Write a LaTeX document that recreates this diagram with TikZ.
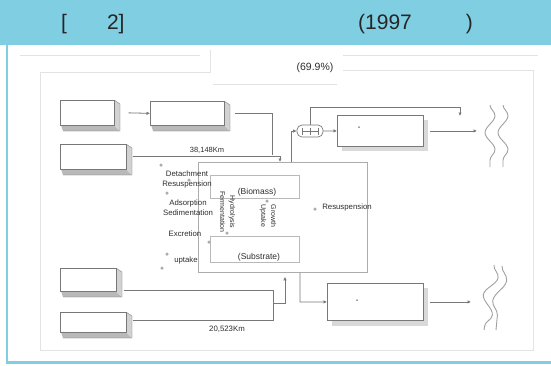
\documentclass[tikz,border=0pt]{standalone}
\usepackage{fontspec}
\setmainfont{Liberation Sans}
\usetikzlibrary{arrows.meta,decorations.pathmorphing}
\definecolor{hdr}{RGB}{127,206,226}
\definecolor{ln}{RGB}{120,120,120}
\definecolor{tx}{RGB}{45,45,45}
\newcommand\slab[5]{%
  \fill[gray!55] (#2+1,#5-6) -- (#4-6,#5-6) -- (#4,#5) -- (#2+3,#5) -- cycle;
  \fill[gray!35] (#4-6,#3) -- (#4,#3+4) -- (#4,#5) -- (#4-6,#5-6) -- cycle;
  \draw[ln,line width=0.4pt] (#2+3,#5) -- (#4,#5) -- (#4,#3+4) -- (#4-6,#3);
  \node[box, minimum width={(#4-#2-6)*1pt}, minimum height={(#5-#3-6)*1pt}] (#1) at (#2,#3) {};}
\begin{document}
\begin{tikzpicture}[x=1pt,y=-1pt,
  box/.style={draw=ln, fill=white, line width=0.7pt, inner sep=0pt, anchor=north west},
  bigbox/.style={draw=ln, fill=white, line width=0.8pt, inner sep=0pt, anchor=north west},
  faint/.style={draw=gray!22, line width=0.8pt},
  conn/.style={draw=ln, line width=0.8pt},
  arr/.style={conn, -{Latex[length=3.5pt,width=3.5pt]}},
  lab/.style={text=tx, inner sep=0pt, font=\fontsize{7.8}{9}\selectfont},
  dot/.style={circle, fill=gray!65, inner sep=0pt, minimum size=3.5pt},
  river/.style={draw=gray!75, line width=0.9pt, decorate, decoration={snake, amplitude=5pt, segment length=34pt}},
  hdrtext/.style={text=black!85, inner sep=0pt, anchor=base west, font=\fontsize{21}{21}\selectfont}]
\useasboundingbox (0,0) rectangle (551,365);
% header and border
\fill[hdr] (0,0) rectangle (551,44.5);
\fill[hdr] (6,44.5) rectangle (8.3,363.5);
\fill[hdr] (6,361) rectangle (551,363.5);
\node[hdrtext] (h1) at (61,29.5) {[\hspace{40pt}2]};
\node[hdrtext] (h2) at (358,29.5) {(1997\hspace{54pt})};
% faint scan frame
\draw[faint] (40,72) -- (40,350) -- (533,350) -- (533,70) -- (343,70);
\draw[faint] (40,72) -- (210,72) -- (210,50);
\draw[faint] (20,55) -- (200,55);
\draw[faint] (213,84) -- (337,84);
\draw[faint] (343,55) -- (538,55);
\node[text=tx, inner sep=0pt, font=\fontsize{10.5}{12}\selectfont] (pct) at (315,68) {(69.9\%)};
% left 3D boxes
\slab{A}{60}{100}{120}{131}
\slab{B}{150}{101}{230}{131}
\slab{C}{60}{144}{132}{175}
\slab{E}{60}{268}{122}{297}
\slab{F}{60}{312}{132}{338}
% right boxes with shadows
\fill[gray!30] (342,120) rectangle (428,151);
\node[bigbox, minimum width=86pt, minimum height=31pt] (D) at (337,115) {};
\fill[gray!30] (332,288) rectangle (428,326);
\node[bigbox, minimum width=96pt, minimum height=37pt] (G) at (327,283) {};
\node[circle, fill=tx, inner sep=0pt, minimum size=1.5pt] (dd) at (359,127) {};
\node[circle, fill=tx, inner sep=0pt, minimum size=1.5pt] (dg) at (357,300) {};
% centre box
\node[draw=gray!65, line width=0.8pt, inner sep=0pt, anchor=north west, minimum width=169pt, minimum height=110pt] (ctr) at (198,162) {};
\node[draw=gray!55, line width=0.7pt, inner sep=0pt, anchor=north west, minimum width=89pt, minimum height=23pt] (bio) at (210,175) {};
\node[draw=gray!55, line width=0.7pt, inner sep=0pt, anchor=north west, minimum width=89pt, minimum height=26pt] (sub) at (210,236) {};
\node[lab, font=\fontsize{8.5}{10}\selectfont] (biot) at (257,192) {(Biomass)};
\node[lab, font=\fontsize{8.5}{10}\selectfont] (subt) at (259,257) {(Substrate)};
\node[lab, rotate=-90, align=center, font=\fontsize{7}{10}\selectfont] (hf) at (227.5,212) {Hydrolysis\\Fermentation};
\node[lab, rotate=-90, align=center, font=\fontsize{7}{10}\selectfont] (gu) at (268,216) {Growth\\Uptake};
% capsule
\node[draw=ln, fill=white, line width=0.7pt, rounded corners=5pt, minimum width=26pt, minimum height=12pt, inner sep=0pt] (pump) at (310,131) {};
\draw[ln, line width=0.6pt] (302,127.5) -- (302,134.5) (310,127.5) -- (310,134.5) (318,127.5) -- (318,134.5) (302,131) -- (318,131);
% labels
\node[lab] (l1) at (187,174) {Detachment};
\node[lab] (l2) at (187,184) {Resuspension};
\node[lab] (l3) at (188,203) {Adsorption};
\node[lab] (l4) at (188,213) {Sedimentation};
\node[lab] (l5) at (185,234) {Excretion};
\node[lab] (l6) at (186,260) {uptake};
\node[lab] (l7) at (347,207) {Resuspension};
\node[lab, font=\fontsize{7.5}{9}\selectfont] (k1) at (207,150) {38,148Km};
\node[lab, font=\fontsize{7.8}{9}\selectfont] (k2) at (227,329) {20,523Km};
% dots
\node[dot] (d1) at (161,165) {};
\node[dot] (d2) at (189,180) {};
\node[dot] (d3) at (167,193) {};
\node[dot] (d4) at (209,242) {};
\node[dot] (d5) at (227,233) {};
\node[dot] (d6) at (267,201) {};
\node[dot] (d7) at (315,209) {};
\node[dot] (d8) at (167,254) {};
\node[dot] (d9) at (162,268) {};
% connectors
\coordinate (b1) at (272,116);
\coordinate (b2) at (272,155);
\coordinate (c1) at (280,157);
\coordinate (p1) at (291,131);
\coordinate (q1) at (310,107);
\coordinate (q2) at (460,107);
\coordinate (rt) at (477,131);
\coordinate (g1) at (300,302);
\coordinate (rb) at (471,302);
\coordinate (e1) at (273,290);
\coordinate (e2) at (273,320);
\coordinate (m1) at (273,303);
\coordinate (m2) at (285,303);
\draw[arr] ([xshift=14pt]A.east) -- (B.west);
\draw[conn] ([xshift=10pt]B.east) -- (B.east -| b1) -- (b2);
\draw[arr] ([xshift=6pt]C.east) -- (C.east -| c1) -- (c1 |- ctr.north);
\draw[arr] (p1 |- ctr.north) -- (p1) -- (pump.west);
\draw[arr] (pump.east) -- (D.west);
\draw[arr] (pump.north) -- (q1) -- (q2) -- ([yshift=-9pt]q2);
\draw[arr] ([xshift=6pt]D.east) -- (D.east -| rt);
\draw[arr] (ctr.south -| g1) -- (g1) -- (G.west);
\draw[arr] ([xshift=6pt]G.east) -- (G.east -| rb);
\draw[conn] (E.east |- e1) ++(7,0) -- (e1) -- (e2) -- ([xshift=6pt]F.east |- e2);
\draw[arr] (m1) -- (m2) -- ([yshift=-4pt]m2 |- ctr.south);
% rivers
\draw[river] (490,105) -- (490,167);
\draw[river] (503,105) -- (503,167);
\draw[river, decoration={snake, amplitude=6pt, segment length=38pt}] (494,265) -- (484,330);
\draw[river, decoration={snake, amplitude=6pt, segment length=44pt}] (502,266) -- (496,330);
\end{tikzpicture}
\end{document}
